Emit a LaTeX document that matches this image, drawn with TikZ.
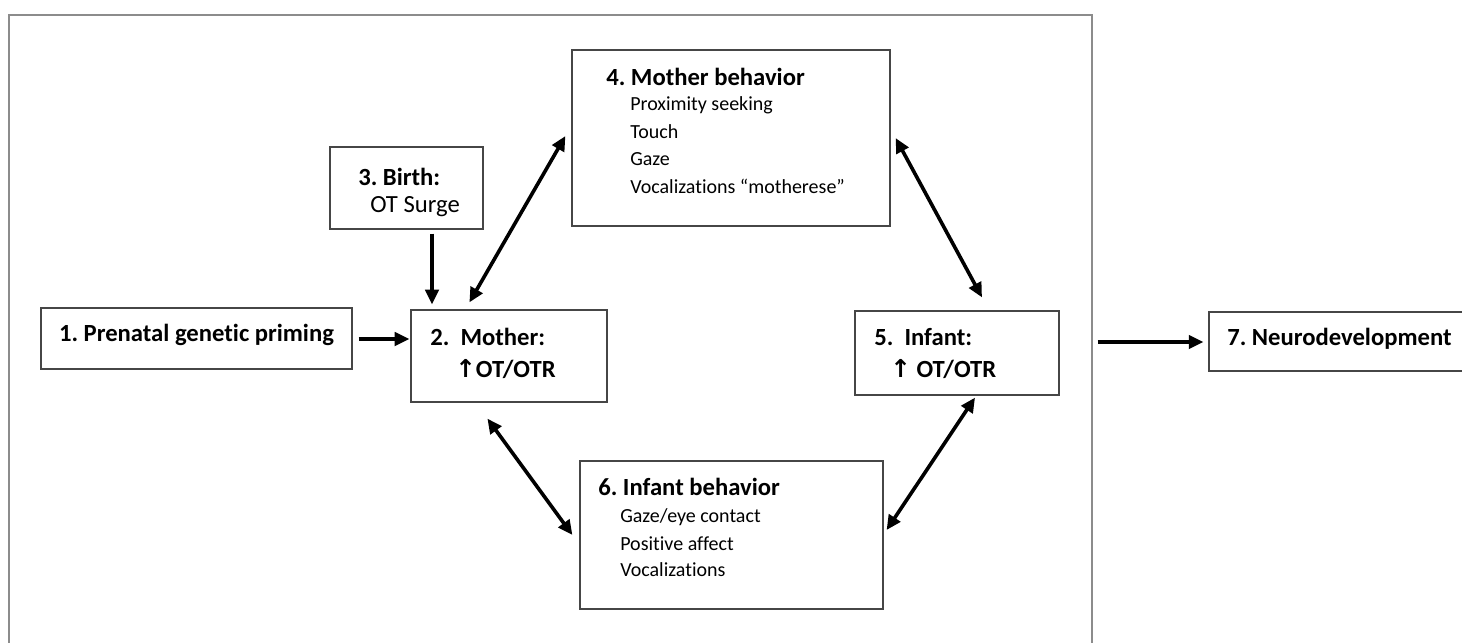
\documentclass[tikz,border=0pt]{standalone}
\usepackage{fontspec}
\setmainfont{Carlito}[Ligatures=NoCommon]
\newfontfamily\arrowfont{DejaVu Sans}
\usetikzlibrary{arrows.meta}
\definecolor{framegray}{RGB}{140,140,140}
\definecolor{boxgray}{RGB}{70,70,70}
\frenchspacing
\begin{document}
\begin{tikzpicture}[x=0.75pt,y=-0.75pt,
    box/.style={draw=boxgray,line width=0.9pt,inner sep=0pt},
    head/.style={anchor=west,inner sep=0pt,font=\fontsize{18.5}{22}\selectfont\bfseries},
    item/.style={anchor=west,inner sep=0pt,font=\fontsize{15}{18}\selectfont},
    link/.style={line width=2.7pt,-{Triangle[length=11pt,width=10pt]}},
    twolink/.style={line width=2.7pt,{Triangle[length=11pt,width=10pt]}-{Triangle[length=11pt,width=10pt]}}]
            \useasboundingbox (0,0) rectangle (1462,642);
            \draw [framegray,line width=1.5pt] (9,680)--(9,15)--(1092,15)--(1092,680);
            % boxes
            \node [box,minimum width=311*0.75pt,minimum height=61*0.75pt] (prenatal) at(196.5,338.5) {};
            \node [box,minimum width=196*0.75pt,minimum height=92*0.75pt] (mother) at(509,356) {};
            \node [box,minimum width=153*0.75pt,minimum height=82*0.75pt] (birth) at(406.5,188) {};
            \node [box,minimum width=318*0.75pt,minimum height=176*0.75pt] (motherbeh) at(731,138) {};
            \node [box,minimum width=204*0.75pt,minimum height=84*0.75pt] (infant) at(957,353) {};
            \node [box,minimum width=303*0.75pt,minimum height=148*0.75pt] (infantbeh) at(731.5,535) {};
            \node [box,minimum width=290*0.75pt,minimum height=59*0.75pt] (neuro) at(1354,341.5) {};
            % texts
            \node [head,anchor=center] (prenataltxt) at(196.5,335) {1. Prenatal genetic priming};
            \node [head] (mothertxt) at(430,337) {2.\ \ Mother:};
            \node [head] (motherot) at(455,369) {{\arrowfont ↑}OT/OTR};
            \node [head] (birthtxt) at(358,177) {3. Birth:};
            \node [item,font=\fontsize{18.5}{22}\selectfont] (surge) at(370,207) {OT Surge};
            \node [head] (motherbehtxt) at(606,77) {4. Mother behavior};
            \node [item] (proximity) at(630,105) {Proximity seeking};
            \node [item] (touch) at(630,132) {Touch};
            \node [item] (gaze) at(630,159) {Gaze};
            \node [item] (motherese) at(630,186) {Vocalizations “motherese”};
            \node [head] (infanttxt) at(874,337) {5.\ \ Infant:};
            \node [head] (infantot) at(890,369) {{\arrowfont ↑} OT/OTR};
            \node [head] (infantbehtxt) at(598,487) {6. Infant behavior};
            \node [item] (eyecontact) at(620,517) {Gaze/eye contact};
            \node [item] (affect) at(620,544) {Positive affect};
            \node [item] (vocal) at(620,570) {Vocalizations};
            \node [head] (neurotxt) at(1227,339) {7. Neurodevelopment};
            % arrows
            \draw [link] ([shift={(6,0.5)}]prenatal.east)--([shift={(-1,-17)}]mother.west);
            \draw [link] ([shift={(25.5,4)}]birth.south)--([shift={(-77,-5)}]mother.north);
            \draw [twolink] ([shift={(59,-7)}]mother.north west)--([shift={(-6,-2)}]motherbeh.west);
            \draw [twolink] ([shift={(5,0)}]motherbeh.east)--([shift={(25,-13)}]infant.north);
            \draw [twolink] ([shift={(77,16)}]mother.south west)--([shift={(-7,0)}]infantbeh.west);
            \draw [twolink] ([shift={(3,-5)}]infantbeh.east)--([shift={(18,2)}]infant.south);
            \draw [link] ([shift={(38,-11)}]infant.east)--([shift={(-5,0.5)}]neuro.west);
        \end{tikzpicture}
\end{document}
